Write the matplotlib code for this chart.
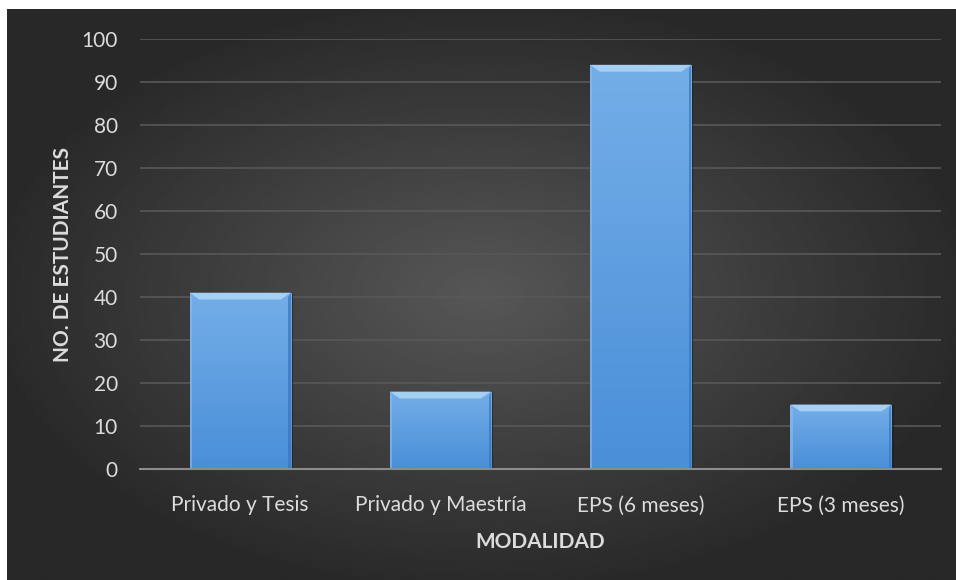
import matplotlib.pyplot as plt
import numpy as np
from matplotlib.patches import Polygon
from matplotlib.colors import LinearSegmentedColormap

# datos
modalidades = ["Privado y Tesis", "Privado y Maestría", "EPS (6 meses)", "EPS (3 meses)"]
estudiantes = [41, 18, 94, 15]
yticks = list(range(0, 101, 10))

plt.rcParams['font.family'] = ['Lato', 'DejaVu Sans']
txt = '#dcdcdc'

fig = plt.figure(figsize=(9.56, 5.80), dpi=100)
fig.patch.set_facecolor('white')

# fondo con degradado radial
bg = fig.add_axes([7/956, 0, 949/956, 571/580])
bg.set_axis_off()
yy, xx = np.mgrid[0:1:300j, 0:1:500j]
r = np.sqrt(((xx - 0.5) / 0.75) ** 2 + ((yy - 0.5) / 0.75) ** 2)
val = 0.34 - 0.18 * np.clip(r / 0.7, 0, 1)
bg.imshow(val, cmap='gray', vmin=0, vmax=1, aspect='auto', extent=[0, 1, 0, 1])

ax = fig.add_axes([140/956, 1 - 469/580, 801/956, 430/580])
ax.patch.set_alpha(0)

x = np.arange(len(modalidades))
w = 0.505
bars = ax.bar(x, estudiantes, width=w, color='#5b9de0', zorder=3, edgecolor='none')

# degradado y biselado de las barras
grad = np.linspace(0, 1, 100).reshape(-1, 1)
cm = LinearSegmentedColormap.from_list('b', ['#4a8fd8', '#74aee8'])
dx, dy = 0.05, 1.6
for b in bars:
    x0, h = b.get_x(), b.get_height()
    im = ax.imshow(grad, cmap=cm, aspect='auto', origin='lower',
                   extent=[x0, x0 + w, 0, h], zorder=3)
    im.set_clip_path(b)
    ax.add_patch(Polygon([[x0, h], [x0 + w, h], [x0 + w - dx, h - dy], [x0 + dx, h - dy]],
                         closed=True, facecolor='#b0d6f7', edgecolor='none', alpha=0.85, zorder=4))
    ax.add_patch(Polygon([[x0 + w, h], [x0 + w, 0], [x0 + w - 0.012, 0], [x0 + w - 0.012, h - dy * 0.6]],
                         closed=True, facecolor='#3a74b8', edgecolor='none', alpha=0.7, zorder=4))
    ax.add_patch(Polygon([[x0, h], [x0, 0], [x0 + 0.012, 0], [x0 + 0.012, h - dy * 0.6]],
                         closed=True, facecolor='#8cbdef', edgecolor='none', alpha=0.6, zorder=4))
    ax.plot([x0 + w + 0.006, x0 + w + 0.006], [0.3, h - 0.3], color='#1e1e1e', lw=1.5, alpha=0.6, zorder=2)

ax.set_xlim(-0.5, 3.5)
ax.set_ylim(0, 100)
ax.set_yticks(yticks)
ax.set_xticks(x)
ax.set_xticklabels(modalidades)
ax.grid(axis='y', color='#585858', lw=1.2, zorder=1)
ax.set_axisbelow(True)
for s in ['top', 'right', 'left']:
    ax.spines[s].set_visible(False)
ax.spines['bottom'].set_color('#8c8c8c')
ax.spines['bottom'].set_linewidth(1.5)
ax.spines['bottom'].set_zorder(5)
ax.tick_params(length=0, colors=txt, labelsize=15)
ax.tick_params(axis='y', pad=16)
ax.tick_params(axis='x', pad=19)

ax.set_xlabel("MODALIDAD", color=txt, fontsize=15, fontweight='bold', labelpad=12)
ax.set_ylabel("NO. DE ESTUDIANTES", color=txt, fontsize=15, fontweight='bold', labelpad=6)

fig.savefig('out.png', dpi=100)
